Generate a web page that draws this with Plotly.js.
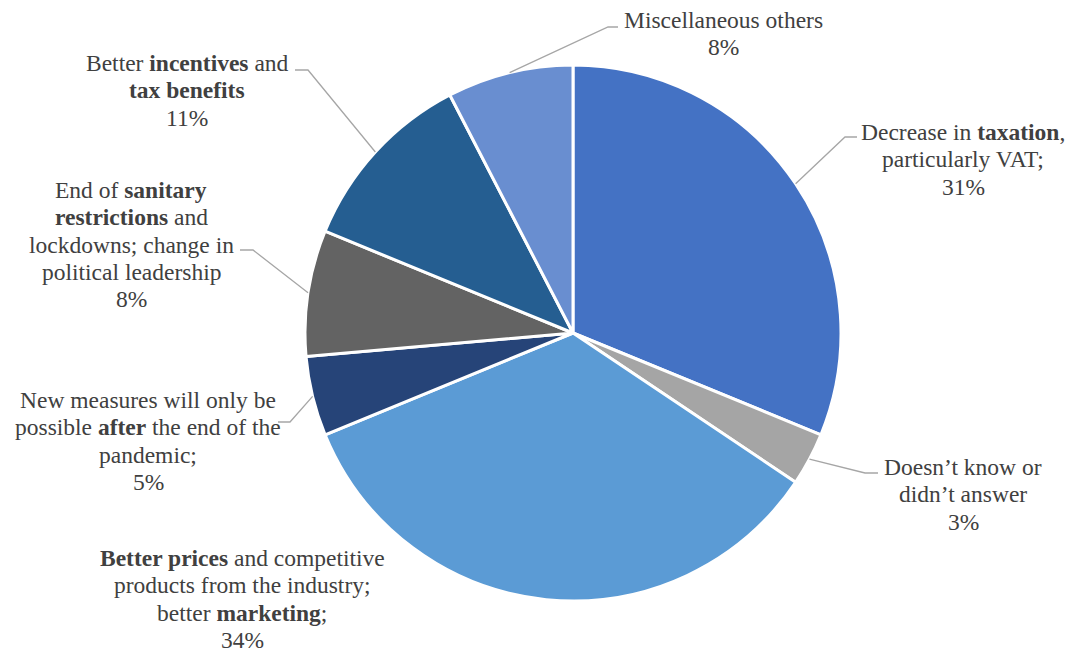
<!DOCTYPE html>
<html>
<head>
<meta charset="utf-8">
<script src="https://cdn.plot.ly/plotly-3.0.1.min.js"></script>
<style>html,body{margin:0;padding:0;background:#fff;}#chart{width:1074px;height:652px;}</style>
</head>
<body>
<div id="chart"></div>
<script>
// ---- data ----
const categories = [
  "Decrease in taxation, particularly VAT",
  "Doesn't know or didn't answer",
  "Better prices and competitive products from the industry; better marketing",
  "New measures will only be possible after the end of the pandemic",
  "End of sanitary restrictions and lockdowns; change in political leadership",
  "Better incentives and tax benefits",
  "Miscellaneous others"
];
const values = [31.2, 3.2, 34.4, 4.8, 7.6, 11.2, 7.6];
const percentLabels = ["31%", "3%", "34%", "5%", "8%", "11%", "8%"];
const labelLines = [
  ["Decrease in <b>taxation</b>,", "particularly VAT;"],
  ["Doesn\u2019t know or", "didn\u2019t answer"],
  ["<b>Better prices</b> and competitive", "products from the industry;", "better <b>marketing</b>;"],
  ["New measures will only be", "possible <b>after</b> the end of the", "pandemic;"],
  ["End of <b>sanitary</b>", "<b>restrictions</b> and", "lockdowns; change in", "political leadership"],
  ["Better <b>incentives</b> and", "<b>tax benefits</b>"],
  ["Miscellaneous others"]
];
const colors = ["#4472C4", "#A5A5A5", "#5B9BD5", "#264478", "#636363", "#255E91", "#698ED0"];

// ---- layout (pixel positions) ----
const W = 1074, H = 652;
const cx = 573, cy = 333, R = 268;
const labelPos = [ [963, 132], [963, 467], [242, 558], [148, 400], [131, 190], [187, 63], [723, 20] ];
const lineStep = 27.3;
const elbows = [ [[845,137],[857,137]], [[865,473],[878,473]], null, [[290,422],[278,422]], [[253,250],[240,250]], [[308,70],[295,70]], [[608,27],[618,27]] ];

const total = values.reduce((a,b)=>a+b,0);
let cum = 0;
const shapes = [], annotations = [];
values.forEach((v, i) => {
  const mid = (cum + v/2) / total * 2 * Math.PI;
  cum += v;
  const ax = cx + R * Math.sin(mid), ay = cy - R * Math.cos(mid);
  if (elbows[i]) {
    const e = elbows[i];
    shapes.push({type: "path", xref: "paper", yref: "paper",
      path: `M${ax/W},${1-ay/H} L${e[0][0]/W},${1-e[0][1]/H} L${e[1][0]/W},${1-e[1][1]/H}`,
      line: {color: "#A6A6A6", width: 1.3}});
  }
  const lines = labelLines[i].concat([percentLabels[i]]);
  lines.forEach((t, k) => {
    annotations.push({xref: "paper", yref: "paper", x: labelPos[i][0]/W, y: 1 - (labelPos[i][1] + k*lineStep)/H,
      text: t, showarrow: false, xanchor: "center", yanchor: "middle",
      font: {family: "Liberation Serif", size: 23.5, color: "#404040"}});
  });
});

const trace = {
  type: "pie", labels: categories, values: values, sort: false, direction: "clockwise", rotation: 0,
  marker: {colors: colors, line: {color: "#FFFFFF", width: 3}},
  textinfo: "none", hoverinfo: "none", showlegend: false,
  domain: {x: [(cx-R)/W, (cx+R)/W], y: [(H-cy-R)/H, (H-cy+R)/H]}
};
const layout = {
  width: W, height: H, margin: {l:0, r:0, t:0, b:0},
  font: {family: "Liberation Serif", size: 24, color: "#404040"},
  paper_bgcolor: "#FFFFFF",
  shapes: shapes, annotations: annotations, showlegend: false
};
Plotly.newPlot("chart", [trace], layout, {displayModeBar: false});
</script>
</body>
</html>
